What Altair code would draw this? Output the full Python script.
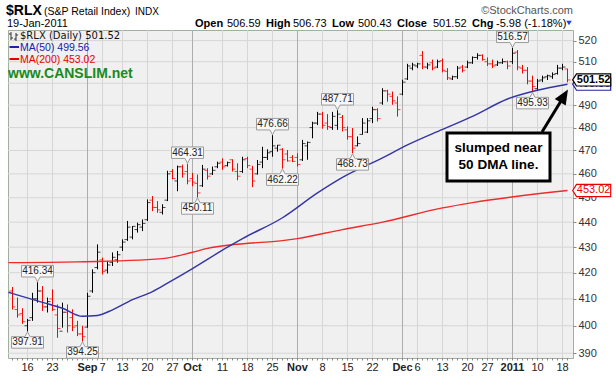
import altair as alt
import pandas as pd

# ---------------- data ----------------
# trading-day index: 0 = Mon 16-Aug-2010 ... 108 = Wed 19-Jan-2011
day = list(range(-3, 109))
opens = [413, 406, 404.5, 400, 403, 410, 413, 407, 410, 404,
         398, 405, 403, 400, 397, 399.5, 413, 422, 425, 421,
         424, 425, 430, 433, 434, 437, 438, 441, 449, 446,
         444, 449, 461, 457, 463, 461, 458, 456, 455, 461.5,
         460, 463, 465, 463.5, 466, 461, 461, 466.5, 462, 460,
         465, 467, 469.5, 471, 470.5, 468.5, 467, 467, 466, 472,
         480, 482, 486, 482, 480, 481, 484.5, 479, 476, 472,
         477, 478, 484, 488, 491, 496.5, 494, 491, 495, 502,
         507, 508, 513, 507.5, 509.5, 507.5, 510.5, 505.5, 502, 503,
         507.5, 507.5, 509.5, 512, 513, 510, 509, 508.5, 509.5, 510,
         510, 514.5, 507, 506, 501, 497.5, 501.5, 503, 503, 504.5,
         507, 506.59]
highs = [414.5, 410.5, 406.5, 402.5, 412.3, 416.34, 414.9, 410.5, 413.6, 407.9,
         408.6, 407.9, 406.1, 401.8, 400, 412.3, 421.3, 431.1, 425.9, 424.6,
         427.9, 428.5, 433.1, 440.5, 438.4, 439.8, 441.1, 449.3, 450.7, 448.6,
         447.3, 461.3, 462, 463.5, 463.9, 464.31, 460.4, 459.7, 463.8, 462.4,
         463.1, 465.2, 466.6, 465.2, 466.2, 464.5, 467.3, 467.3, 463.4, 465.9,
         471.6, 470.5, 476.66, 472.4, 471, 470.2, 468, 468.8, 474.6, 473.9,
         482.6, 487, 487, 486, 487, 487.71, 485.6, 480.5, 479.8, 476.1,
         484.2, 484.2, 489.3, 488.6, 497.7, 497, 496.2, 494, 501.6, 509,
         509.5, 509.5, 515, 509.5, 511, 511, 511.5, 507, 503.5, 508,
         508.5, 510.5, 512.5, 514, 513.5, 512, 511, 510.5, 511.5, 510.5,
         516.57, 515.5, 508.5, 507.5, 503.5, 502, 503.5, 504, 505, 508.5,
         509, 506.73]
lows = [406, 403, 400.7, 397.91, 401.8, 408.6, 405.5, 404.9, 405.5, 395.6,
        399.3, 397.5, 398, 396.2, 394.25, 399.3, 412.3, 421.3, 419.3, 419.7,
        422.6, 423.9, 428.5, 432.5, 433.1, 435.8, 436.4, 440.5, 444.5, 443.8,
        443.1, 448.6, 457.7, 452.7, 458.4, 455.6, 454.8, 450.11, 454.5, 457.6,
        459.5, 462.4, 461.7, 463.1, 461, 457.3, 460.4, 462.4, 454.4, 459.7,
        462.4, 465.9, 467.3, 469.5, 462.22, 465.2, 465, 463.1, 465.5, 466,
        475.3, 481.1, 479.5, 479, 479, 479, 478.3, 474.7, 468.73, 471.8,
        476.9, 477.6, 482, 482.7, 490.2, 491.6, 490.2, 484.9, 494.5, 501.5,
        506, 507, 506.5, 506.5, 506, 507, 505, 501.5, 501.5, 502,
        505, 507, 509, 511, 510.5, 508, 507, 508, 509, 506.5,
        509, 506, 504.5, 499.5, 495.93, 496.5, 500.5, 501.5, 502, 504,
        506, 500.43]
closes = [407, 404, 401.5, 402, 410, 413, 407, 409, 406, 399,
          405, 400, 399.5, 397, 396, 411, 420, 428, 420.5, 423,
          426, 427, 432, 438, 438.3, 439, 439.5, 448, 446, 445,
          446, 460, 458, 463, 460, 457, 456.5, 452, 462, 459,
          461.5, 464.5, 463, 464.8, 462, 459, 466, 463.5, 457, 464,
          467, 469, 472, 472.3, 466, 465.5, 465.3, 464, 473, 473.5,
          482, 486, 481, 480.5, 485, 486, 480, 476, 471, 473,
          482, 483, 488, 484, 496.5, 495, 492, 488, 500.5, 508,
          508.5, 509, 507.5, 508.5, 507, 510, 506, 502.5, 503, 507,
          506, 509.5, 512, 513, 511, 509, 508, 509.5, 510, 508,
          514, 507.5, 506, 501, 498.5, 501, 502.5, 503.5, 504, 507,
          507.5, 501.52]
close_before_first = 415.0

ma50_day = [-3.8, 3, 7, 11, 14, 17, 21, 25, 28, 33, 40, 43, 51, 58, 63, 71, 76, 83, 89, 96, 102, 108]
ma50_val = [412.5, 408.7, 406.5, 403.5, 403.8, 405.9, 409.7, 412.8, 416.0, 421.6, 430.0,
            433.4, 441.8, 452.0, 458.5, 466.8, 472.4, 479.2, 485.0, 492.8, 496.8, 499.56]
ma200_day = [-3.8, 10, 27, 33, 36, 54, 63, 71, 83, 89, 108]
ma200_val = [423.9, 424.2, 425.5, 428.0, 429.5, 433.4, 437.0, 440.0, 445.8, 448.0, 453.02]

hi_day = [2, 32, 49, 62, 97]
hi_val = [416.34, 464.31, 476.66, 487.71, 516.57]
lo_day = [0, 11, 34, 51, 65, 101]
lo_val = [397.91, 394.25, 450.11, 462.22, 468.73, 495.93]

tick_day = [0, 5, 12, 15, 19, 24, 29, 33, 39, 44, 49, 54, 59, 64, 69, 75, 78, 83, 88, 92, 97, 102, 107]
tick_text = ["16", "23", "Sep", "7", "13", "20", "27", "Oct", "11", "18", "25", "Nov",
             "8", "15", "22", "Dec", "6", "13", "20", "27", "2011", "10", "18"]
tick_month = [t in ("Sep", "Oct", "Nov", "Dec", "2011") for t in tick_text]

# 500 is hidden behind the price tags in the reference
grid_values = list(range(390, 521, 10))
label_values = [v for v in grid_values if v != 500]

quote_names = ["Open", "High", "Low", "Close", "Chg"]
quote_vals = ["506.59", "506.73", "500.43", "501.52", "-5.98 (-1.18%)"]
last_close = 501.52
ma50_last = 499.56
ma200_last = 453.02

# ---------------- layout ----------------
W, H = 565, 328
OX, OY = 8, 30
FONT = "Liberation Sans"

prev = [close_before_first] + closes[:-1]
bars = pd.DataFrame({"d": day, "o": opens, "h": highs, "l": lows, "c": closes})
bars["col"] = ["#ff0000" if c < p else "#000000" for c, p in zip(closes, prev)]

ticks = pd.DataFrame({"d": tick_day, "t": tick_text, "m": tick_month})
ticks["gc"] = ["#adadad" if m else "#d6d6d6" for m in tick_month]
hgrid = pd.DataFrame({"v": grid_values})

xs = alt.Scale(domain=[-3.9, 109.1], nice=False, zero=False)
ys = alt.Scale(type="log", domain=[388.3, 525.1], nice=False, zero=False)
X = alt.X("d:Q", scale=xs, axis=None)

yaxis = alt.Axis(orient="right", values=label_values, format="d", title=None,
                 labelFont=FONT, labelFontSize=11, labelColor="#333",
                 tickSize=3, tickColor="#888", labelPadding=2, domain=False,
                 grid=False, labelOverlap=False, labelFlush=False)


def Y(field):
    return alt.Y(field, scale=ys, axis=yaxis)


one = pd.DataFrame({"k": [0]})


def txt(text, px, py, size=11, weight="normal", color="#000", font=FONT,
        align="left", baseline="alphabetic"):
    return alt.Chart(one).mark_text(text=text, fontSize=size, fontWeight=weight, color=color,
                                    font=font, align=align, baseline=baseline).encode(
        x=alt.value(px - OX), y=alt.value(py - OY))


def seg(x1, y1, x2, y2, color="#000", w=1.0):
    return alt.Chart(one).mark_rule(color=color, strokeWidth=w).encode(
        x=alt.value(x1 - OX), y=alt.value(y1 - OY), x2=alt.value(x2 - OX), y2=alt.value(y2 - OY))


layers = []

# horizontal grid (every 10 points)
layers.append(alt.Chart(hgrid).mark_rule(color="#d6d6d6", strokeWidth=1).encode(
    y=Y("v:Q"), x=alt.value(0), x2=alt.value(W)))
# vertical grid
layers.append(alt.Chart(ticks).mark_rule(strokeWidth=1).encode(
    x=X, y=alt.value(0), y2=alt.value(H), color=alt.Color("gc:N", scale=None)))
# daily ticks under the plot
layers.append(alt.Chart(bars).mark_rule(color="#8a8a8a", strokeWidth=1).encode(
    x=X, y=alt.value(H), y2=alt.value(H + 2.5)))

# OHLC bars
layers.append(alt.Chart(bars).mark_rule(strokeWidth=1).encode(
    x=X, y=Y("l:Q"), y2="h:Q", color=alt.Color("col:N", scale=None)))
layers.append(alt.Chart(bars).mark_tick(orient="horizontal", size=3, thickness=1, xOffset=-1.5).encode(
    x=X, y=Y("o:Q"), color=alt.Color("col:N", scale=None)))
layers.append(alt.Chart(bars).mark_tick(orient="horizontal", size=3, thickness=1, xOffset=1.5).encode(
    x=X, y=Y("c:Q"), color=alt.Color("col:N", scale=None)))

# moving averages
ma50 = pd.DataFrame({"d": ma50_day, "v": ma50_val})
ma200 = pd.DataFrame({"d": ma200_day, "v": ma200_val})
layers.append(alt.Chart(ma200).mark_line(color="#ee2a2a", strokeWidth=1.4, interpolate="monotone").encode(
    x=X, y=Y("v:Q")))
layers.append(alt.Chart(ma50).mark_line(color="#3434a6", strokeWidth=1.4, interpolate="monotone").encode(
    x=X, y=Y("v:Q")))

# high / low value tags
HI_SHAPE = "M-1,-0.36L1,-0.36L1,0.36L0.16,0.36L0,0.66L-0.16,0.36L-1,0.36Z"
LO_SHAPE = "M-1,0.36L1,0.36L1,-0.36L0.16,-0.36L0,-0.66L-0.16,-0.36L-1,-0.36Z"
for dd, vv, shape, off in ((hi_day, hi_val, HI_SHAPE, -11), (lo_day, lo_val, LO_SHAPE, 11)):
    df = pd.DataFrame({"d": dd, "v": vv})
    layers.append(alt.Chart(df).mark_point(shape=shape, size=1024, filled=True, fill="#f7f7f7",
                                           stroke="#9c9c9c", strokeWidth=1, opacity=1, yOffset=off).encode(
        x=X, y=Y("v:Q")))
    layers.append(alt.Chart(df).mark_text(font=FONT, fontSize=10, color="#222", yOffset=off,
                                          baseline="middle").encode(
        x=X, y=Y("v:Q"), text=alt.Text("v:Q", format=".2f")))

# x-axis labels
for bold in (False, True):
    df = ticks[ticks["m"] == bold]
    layers.append(alt.Chart(df).mark_text(font=FONT, fontSize=11, color="#222",
                                          fontWeight="bold" if bold else "normal",
                                          baseline="alphabetic").encode(
        x=X, y=alt.value(371 - OY), text="t:N"))

# header
layers.append(txt("$RLX", 6, 15, size=14, weight="bold"))
layers.append(txt("(S&P Retail Index)", 44, 15, size=10.5))
layers.append(txt("INDX", 135, 15, size=10))
layers.append(txt("19-Jan-2011", 7, 27, size=11))
name_x = [195, 266, 332, 397, 472]
val_x = [227, 293, 358, 433, 496]
for n, v, nx, vx in zip(quote_names, quote_vals, name_x, val_x):
    layers.append(txt(n, nx, 27, size=11, weight="bold"))
    layers.append(txt(v, vx, 27, size=11))
layers.append(alt.Chart(one).mark_point(shape="triangle-down", size=30, filled=True,
                                        color="#1f3fe0", opacity=1).encode(
    x=alt.value(569 - OX), y=alt.value(23 - OY)))
layers.append(txt("\u00a9StockCharts.com", 573, 14, size=11, color="#555", align="right"))

# in-plot legend
for a in (seg(11, 32, 11, 40, "#333"), seg(9, 34, 11, 34, "#333"), seg(11, 38, 13, 38, "#333"),
          seg(16, 33, 16, 41, "#333"), seg(14, 39, 16, 39, "#333"), seg(16, 35, 18, 35, "#333")):
    layers.append(a)
layers.append(txt(f"$RLX (Daily) {last_close:.2f}", 20, 36, size=10, font="DejaVu Sans",
                  color="#111", baseline="middle"))
layers.append(seg(9.5, 47, 19, 47, "#2020a8", 2))
layers.append(txt(f"MA(50) {ma50_last:.2f}", 20, 47.5, size=10.5, color="#2020a8", baseline="middle"))
layers.append(seg(9.5, 59, 19, 59, "#e80000", 2))
layers.append(txt(f"MA(200) {ma200_last:.2f}", 20, 59.5, size=10.5, color="#e80000", baseline="middle"))
layers.append(txt("www.CANSLIM.net", 8, 78, size=14, weight="bold", color="#1a8a1a"))

# callout
layers.append(alt.Chart(one).mark_rect(fill="white", stroke="black", strokeWidth=3).encode(
    x=alt.value(447 - OX), x2=alt.value(550 - OX), y=alt.value(133 - OY), y2=alt.value(181 - OY)))
layers.append(txt("slumped near", 498.5, 148, size=13.5, weight="bold", align="center", baseline="middle"))
layers.append(txt("50 DMA line.", 498.5, 165, size=13.5, weight="bold", align="center", baseline="middle"))
layers.append(seg(542, 132, 561, 101, "black", 3))
layers.append(alt.Chart(one).mark_point(shape="M0,-1L0.85,1L-0.85,1Z", size=225, angle=31,
                                        filled=True, color="black", opacity=1).encode(
    x=alt.value(564.1 - OX), y=alt.value(95.9 - OY)))

# right-hand price tags
NOTCH = "M-1,0L-0.8,-0.32L1,-0.32L1,0.32L-0.8,0.32Z"
for v, c, w in ((ma50_last, "#2020a8", "normal"), (ma200_last, "#e80000", "normal"),
                (last_close, "#000000", "bold")):
    df = pd.DataFrame({"v": [v]})
    layers.append(alt.Chart(df).mark_point(shape=NOTCH, size=1444, filled=True, fill="white",
                                           stroke=c, strokeWidth=1.2, opacity=1).encode(
        x=alt.value(591.7 - OX), y=Y("v:Q")))
    layers.append(alt.Chart(df).mark_text(font=FONT, fontSize=11, color=c, fontWeight=w,
                                          baseline="middle").encode(
        x=alt.value(593.6 - OX), y=Y("v:Q"), text=alt.Text("v:Q", format=".2f")))

chart = alt.layer(*layers).properties(
    width=W, height=H,
    autosize=alt.AutoSizeParams(type="none"),
    padding={"left": OX, "top": OY, "right": 616 - OX - W, "bottom": 377 - OY - H},
    background="white",
).configure_view(stroke="#9fb09f", strokeWidth=1, fill="#f0f0f0")

chart.save("out.html", embed_options={"renderer": "svg", "actions": False})
